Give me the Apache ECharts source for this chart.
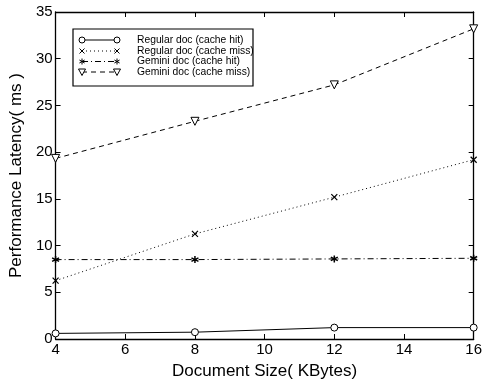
<!DOCTYPE html>
<html>
<head>
<meta charset="utf-8">
<script src="https://cdn.jsdelivr.net/npm/echarts@6/dist/echarts.min.js"></script>
<style>html,body{margin:0;padding:0;background:#fff}#c{width:485px;height:385px}</style>
</head>
<body>
<div id="c"></div>
<script>
const docSizes = [4, 8, 12, 16];
const regularHit = [0.6, 0.73, 1.22, 1.22];
const regularMiss = [6.24, 11.25, 15.18, 19.19];
const geminiHit = [8.5, 8.5, 8.57, 8.64];
const geminiMiss = [19.33, 23.3, 27.2, 33.2];
const seriesNames = ['Regular doc (cache hit)', 'Regular doc (cache miss)', 'Gemini doc (cache hit)', 'Gemini doc (cache miss)'];
const xTitle = 'Document Size( KBytes)';
const yTitle = 'Performance Latency( ms )';

const FONT = '"Liberation Sans", Arial, Helvetica, sans-serif';
const crossPath = 'path://M0,0L10,10M10,0L0,10';
const starPath = 'path://M5,0L5,10M0.7,2.5L9.3,7.5M0.7,7.5L9.3,2.5';

function pairs(ys) { return docSizes.map((x, i) => [x, ys[i]]); }

const chart = echarts.init(document.getElementById('c'), null, {renderer: 'canvas'});

const axisCommon = {
  axisLine: {show: true, onZero: false, lineStyle: {color: '#000', width: 1.3}},
  axisTick: {show: true, inside: true, length: 5, lineStyle: {color: '#000', width: 1}},
  splitLine: {show: false}
};

// Legend (MATLAB-style box with sample lines and markers at both ends)
const lgX = 73, lgY = 29, lgW = 180, lgH = 57;
const rowY = [40, 51, 61.5, 72];
const lx0 = 82, lx1 = 117, tx = 137;
const legendDash = [null, [1, 3], [6, 3, 1, 3], [5, 4]];
const legendGraphics = [
  {type: 'rect', shape: {x: lgX, y: lgY, width: lgW, height: lgH}, style: {fill: '#fff', stroke: '#000', lineWidth: 1.2}, z: 100}
];
function seg(x1, y1, x2, y2) {
  return {type: 'line', shape: {x1: x1, y1: y1, x2: x2, y2: y2}, style: {stroke: '#000', lineWidth: 1}, z: 102};
}
function markerGraphics(kind, cx, cy) {
  if (kind === 0) return [{type: 'circle', shape: {cx: cx, cy: cy, r: 3}, style: {fill: '#fff', stroke: '#000', lineWidth: 1}, z: 102}];
  if (kind === 1) return [seg(cx-2.5, cy-2.5, cx+2.5, cy+2.5), seg(cx+2.5, cy-2.5, cx-2.5, cy+2.5)];
  if (kind === 2) return [seg(cx, cy-3, cx, cy+3), seg(cx-2.6, cy-1.5, cx+2.6, cy+1.5), seg(cx-2.6, cy+1.5, cx+2.6, cy-1.5)];
  return [{type: 'polygon', shape: {points: [[cx-3.5, cy-3], [cx+3.5, cy-3], [cx, cy+3.5]]}, style: {fill: '#fff', stroke: '#000', lineWidth: 1}, z: 102}];
}
seriesNames.forEach((name, i) => {
  legendGraphics.push({type: 'line', shape: {x1: lx0, y1: rowY[i], x2: lx1, y2: rowY[i]}, style: {stroke: '#000', lineWidth: 1, lineDash: legendDash[i]}, z: 101});
  markerGraphics(i, lx0, rowY[i]).forEach(g => legendGraphics.push(g));
  markerGraphics(i, lx1, rowY[i]).forEach(g => legendGraphics.push(g));
  legendGraphics.push({type: 'text', style: {text: name, x: tx, y: rowY[i], font: '10.3px ' + FONT, fill: '#000', verticalAlign: 'middle', textVerticalAlign: 'middle'}, z: 102});
});

chart.setOption({
  animation: false,
  backgroundColor: '#fff',
  grid: {left: 51, right: 11, top: 12, height: 335, containLabel: false},
  xAxis: [
    Object.assign({
      type: 'value', min: 4, max: 16, interval: 2, position: 'bottom',
      name: xTitle, nameLocation: 'middle', nameGap: 24,
      nameTextStyle: {color: '#000', fontSize: 17, fontFamily: FONT},
      axisLabel: {color: '#000', fontSize: 15, fontFamily: FONT, margin: 3}
    }, axisCommon),
    Object.assign({
      type: 'value', min: 4, max: 16, interval: 2, position: 'top',
      axisLabel: {show: false}
    }, axisCommon)
  ],
  yAxis: [
    Object.assign({
      type: 'value', min: 0, max: 35, interval: 5, position: 'left',
      name: yTitle, nameLocation: 'middle', nameGap: 21,
      nameTextStyle: {color: '#000', fontSize: 17, fontFamily: FONT},
      axisLabel: {color: '#000', fontSize: 15, fontFamily: FONT, margin: 3}
    }, axisCommon),
    Object.assign({
      type: 'value', min: 0, max: 35, interval: 5, position: 'right',
      axisLabel: {show: false}
    }, axisCommon)
  ],
  series: [
    {
      name: seriesNames[0], type: 'line', data: pairs(regularHit),
      symbol: 'circle', symbolSize: 7,
      lineStyle: {color: '#000', width: 1, type: 'solid'},
      itemStyle: {color: '#fff', borderColor: '#000', borderWidth: 1}
    },
    {
      name: seriesNames[1], type: 'line', data: pairs(regularMiss),
      symbol: crossPath, symbolSize: 6,
      lineStyle: {color: '#000', width: 1, type: [1, 3]},
      itemStyle: {color: 'rgba(0,0,0,0)', borderColor: '#000', borderWidth: 1.2}
    },
    {
      name: seriesNames[2], type: 'line', data: pairs(geminiHit),
      symbol: starPath, symbolSize: 7,
      lineStyle: {color: '#000', width: 1, type: [6, 3, 1, 3]},
      itemStyle: {color: 'rgba(0,0,0,0)', borderColor: '#000', borderWidth: 1.5}
    },
    {
      name: seriesNames[3], type: 'line', data: pairs(geminiMiss),
      symbol: 'triangle', symbolRotate: 180, symbolSize: 8,
      lineStyle: {color: '#000', width: 1, type: [5, 4]},
      itemStyle: {color: '#fff', borderColor: '#000', borderWidth: 1}
    }
  ],
  graphic: legendGraphics
});
</script>
</body>
</html>
